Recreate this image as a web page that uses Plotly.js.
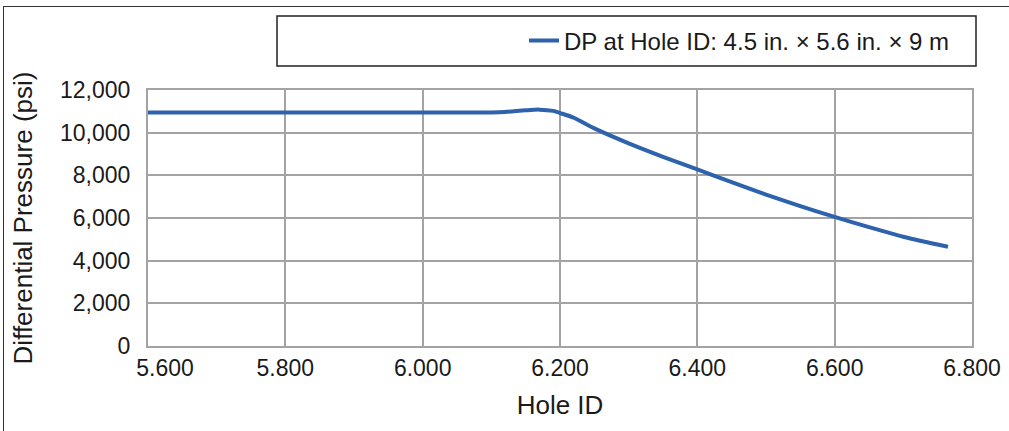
<!DOCTYPE html>
<html>
<head>
<meta charset="utf-8">
<script src="https://cdn.plot.ly/plotly-3.0.1.min.js"></script>
<style>
html,body{margin:0;padding:0;background:#fff;}
#wrap{position:relative;width:1009px;height:431px;overflow:hidden;}
#chart{position:absolute;left:0;top:0;width:1009px;height:431px;}
#frame{position:absolute;left:3px;top:6px;width:1100px;height:500px;border-left:1px solid #333;border-top:1px solid #333;pointer-events:none;}
</style>
</head>
<body>
<div id="wrap"><div id="chart"></div><div id="frame"></div></div>
<script>
var holeID = [5.60, 5.70, 5.80, 5.90, 6.00, 6.05, 6.10, 6.12, 6.15, 6.17, 6.19, 6.20, 6.22, 6.25, 6.30, 6.35, 6.40, 6.45, 6.50, 6.55, 6.60, 6.65, 6.70, 6.765];
var diffPressure = [10950, 10950, 10950, 10950, 10950, 10950, 10950, 10970, 11050, 11080, 11020, 10920, 10700, 10200, 9500, 8870, 8280, 7680, 7100, 6560, 6050, 5570, 5120, 4650];
var xTickVals = [5.8, 6.0, 6.2, 6.4, 6.6, 6.8];
var xTickText = ['5.800', '6.000', '6.200', '6.400', '6.600', '6.800'];
var xFirstTickVal = [5.6];
var xFirstTickText = ['5.600'];
var seriesName = 'DP at Hole ID: 4.5 in. × 5.6 in. × 9 m';
var xTitle = 'Hole ID';
var yTitle = 'Differential Pressure (psi)';

var L = 148, R = 37, T = 90, B = 85, W = 1009, H = 431;
var pw = W - L - R, ph = H - T - B;
function px2paperX(x){ return (x - L) / pw; }
function px2paperY(y){ return (H - B - y) / ph; }

var font = 'Arial, "Liberation Sans", sans-serif';
var grid = '#a3a3a3';
var txt = '#1a1a1a';

var trace = {
  x: holeID, y: diffPressure, name: seriesName, type: 'scatter', mode: 'lines',
  line: {color: '#2e62ad', width: 4, shape: 'spline', smoothing: 0.8},
  showlegend: true
};
// carrier for the secondary x axis that holds the shifted first tick label (no marks)
var axisCarrier = {
  x: [], y: [], xaxis: 'x2', yaxis: 'y', type: 'scatter', mode: 'lines',
  showlegend: false, hoverinfo: 'skip'
};

var layout = {
  width: W, height: H,
  margin: {l: L, r: R, t: T, b: B, pad: 0},
  paper_bgcolor: '#fff', plot_bgcolor: '#fff',
  font: {family: font, color: txt, size: 23},
  xaxis: {
    range: [5.6, 6.8], tickmode: 'array', tickvals: xTickVals, ticktext: xTickText,
    showgrid: true, gridcolor: grid, gridwidth: 2,
    showline: true, linecolor: grid, linewidth: 2, mirror: true,
    zeroline: false, ticks: '', ticklabelstandoff: 0,
    tickfont: {size: 23, color: txt},
    title: {text: xTitle, font: {size: 26, color: txt}, standoff: 16}
  },
  xaxis2: {
    overlaying: 'x', anchor: 'y', side: 'bottom',
    range: [5.6, 6.8], tickmode: 'array', tickvals: xFirstTickVal, ticktext: xFirstTickText,
    showgrid: false, showline: false, zeroline: false, ticks: '',
    ticklabelstandoff: 6, ticklabelshift: 17,
    tickfont: {size: 23, color: txt}
  },
  yaxis: {
    range: [0, 12000], dtick: 2000, tickformat: ',d',
    showgrid: true, gridcolor: grid, gridwidth: 2,
    showline: true, linecolor: grid, linewidth: 2, mirror: true,
    zeroline: false, ticks: '', ticklabelstandoff: 11,
    tickfont: {size: 23, color: txt},
    title: {text: yTitle, font: {size: 26, color: txt}, standoff: 20}
  },
  legend: {
    x: px2paperX(955), xanchor: 'right',
    y: px2paperY(41), yanchor: 'middle',
    bgcolor: 'rgba(0,0,0,0)', borderwidth: 0,
    font: {size: 24, color: txt}
  },
  shapes: [{
    type: 'rect', xref: 'paper', yref: 'paper',
    x0: px2paperX(277), x1: px2paperX(976), y0: px2paperY(66), y1: px2paperY(16),
    line: {color: '#222', width: 1.5}, fillcolor: 'rgba(0,0,0,0)', layer: 'below'
  }]
};

Plotly.newPlot('chart', [trace, axisCarrier], layout, {displayModeBar: false, staticPlot: true});
</script>
</body>
</html>
